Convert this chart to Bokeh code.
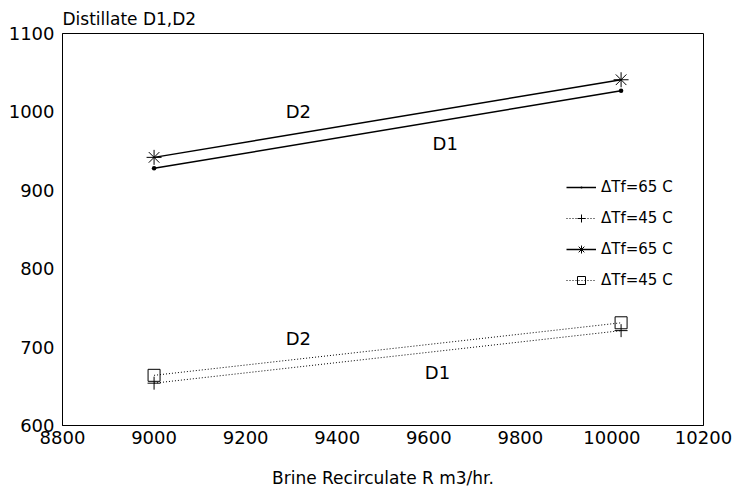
from bokeh.plotting import figure
from bokeh.models import Range1d, Legend, LegendItem, Label
from bokeh.embed import file_html
from bokeh.resources import INLINE

recirc = [9000, 10020]
d1_65 = [928, 1027]
d2_65 = [942, 1041]
d1_45 = [654, 721]
d2_45 = [664, 731]

ann_text = ["D2", "D1", "D2", "D1"]
ann_x = [9315, 9636, 9315, 9619]
ann_y = [1000, 960, 711, 668]

x_ticks = [8800, 9000, 9200, 9400, 9600, 9800, 10000, 10200]
y_ticks = [600, 700, 800, 900, 1000, 1100]

FONT = "DejaVu Sans"
W, H = 736, 490

p = figure(width=W, height=H, output_backend="svg", toolbar_location=None,
           x_range=Range1d(8800, 10200), y_range=Range1d(600, 1100),
           min_border_left=62, min_border_right=W - 703, min_border_top=33,
           min_border_bottom=H - 425)
p.title.text = "Distillate D1,D2"
p.title.text_font = FONT
p.title.text_font_size = "17px"
p.title.text_font_style = "normal"
p.title.text_color = "black"
p.title.align = "left"
p.title.offset = 0
p.title.standoff = 10

p.xgrid.visible = False
p.ygrid.visible = False
p.outline_line_color = "black"
p.outline_line_width = 1

for ax in (p.xaxis[0], p.yaxis[0]):
    ax.major_tick_out = 0
    ax.major_tick_in = 0
    ax.minor_tick_out = 0
    ax.minor_tick_in = 0
    ax.axis_line_color = "black"
    ax.major_label_text_font = FONT
    ax.major_label_text_font_size = "18px"
    ax.major_label_text_color = "black"
p.xaxis.ticker = x_ticks
p.yaxis.ticker = y_ticks
p.xaxis.major_label_standoff = 5
p.yaxis.major_label_standoff = 8
p.xaxis.axis_label = "Brine Recirculate R m3/hr."
p.xaxis.axis_label_text_font = FONT
p.xaxis.axis_label_text_font_size = "17px"
p.xaxis.axis_label_text_font_style = "normal"
p.xaxis.axis_label_text_color = "black"
p.xaxis.axis_label_standoff = 21

l1 = p.line(recirc, d1_65, line_color="black", line_width=1.5)
m1 = p.scatter(recirc, d1_65, marker="dot", size=18, line_color="black", fill_color="black")
l2 = p.line(recirc, d1_45, line_color="black", line_width=1, line_dash="1 2")
m2 = p.scatter(recirc, d1_45, marker="cross", size=13, line_color="black", line_width=1)
l3 = p.line(recirc, d2_65, line_color="black", line_width=1.5)
m3 = p.scatter(recirc, d2_65, marker="asterisk", size=15, line_color="black", line_width=1)
l4 = p.line(recirc, d2_45, line_color="black", line_width=1, line_dash="1 2")
m4 = p.scatter(recirc, d2_45, marker="square", size=12, fill_color=None, line_color="black", line_width=1)

for t, x, y in zip(ann_text, ann_x, ann_y):
    p.add_layout(Label(x=x, y=y, text=t, text_font=FONT, text_font_size="18px",
                       text_color="black", text_align="center", text_baseline="middle"))

legend = Legend(items=[
    LegendItem(label="ΔTf=65 C", renderers=[l1, m1]),
    LegendItem(label="ΔTf=45 C", renderers=[l2, m2]),
    LegendItem(label="ΔTf=65 C", renderers=[l3, m3]),
    LegendItem(label="ΔTf=45 C", renderers=[l4, m4]),
], location=(494, 125))
legend.background_fill_alpha = 0
legend.border_line_alpha = 0
legend.label_text_font = FONT
legend.label_text_font_size = "15px"
legend.label_text_color = "black"
legend.glyph_width = 30
legend.spacing = 11
legend.label_standoff = 5
p.add_layout(legend, "center")

open("out.html", "w").write(file_html(p, INLINE))
